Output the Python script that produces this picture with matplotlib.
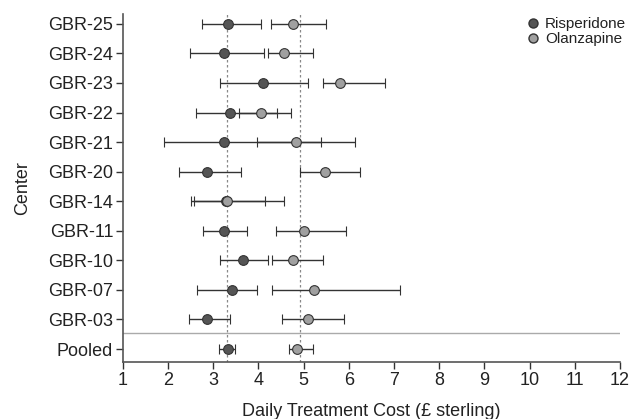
import matplotlib
matplotlib.use("Agg")
import matplotlib.pyplot as plt
from matplotlib.lines import Line2D
import numpy as np

plt.rcParams['font.family'] = ['Liberation Sans', 'DejaVu Sans']

centers = ["Pooled", "GBR-03", "GBR-07", "GBR-10", "GBR-11", "GBR-14",
           "GBR-20", "GBR-21", "GBR-22", "GBR-23", "GBR-24", "GBR-25"]

risp_mean = [3.32, 2.87, 3.42, 3.66, 3.24, 3.28, 2.86, 3.23, 3.37, 4.11, 3.23, 3.33]
risp_low  = [3.12, 2.46, 2.65, 3.16, 2.78, 2.57, 2.25, 1.91, 2.62, 3.14, 2.48, 2.76]
risp_high = [3.49, 3.37, 3.97, 4.22, 3.74, 4.14, 3.62, 5.38, 4.42, 5.10, 4.13, 4.05]

olan_mean = [4.85, 5.10, 5.23, 4.77, 5.01, 3.30, 5.47, 4.84, 4.05, 5.80, 4.56, 4.77]
olan_low  = [4.67, 4.52, 4.31, 4.31, 4.38, 2.50, 4.92, 3.97, 3.56, 5.42, 4.22, 4.27]
olan_high = [5.20, 5.90, 7.13, 5.44, 5.93, 4.56, 6.24, 6.13, 4.73, 6.80, 5.21, 5.49]

ref_lines = [3.31, 4.93]

ypos = np.arange(len(centers))

fig = plt.figure(figsize=(6.3, 4.19), dpi=100)
ax = fig.add_axes([0.195, 0.136, 0.789, 0.831])

for x in ref_lines:
    ax.axvline(x, color='#888888', linestyle=(0, (2, 2)), linewidth=0.9, zorder=1)
ax.axhline(0.54, color='#aaaaaa', linewidth=1.0, zorder=1)

rm = np.array(risp_mean)
om = np.array(olan_mean)
ax.errorbar(rm, ypos, xerr=[rm - np.array(risp_low), np.array(risp_high) - rm],
            fmt='o', color='#333333', ecolor='#333333', elinewidth=1.0, capsize=3.5,
            capthick=1.0, markersize=7, markerfacecolor='#555555',
            markeredgecolor='#333333', markeredgewidth=0.8, zorder=3)
ax.errorbar(om, ypos, xerr=[om - np.array(olan_low), np.array(olan_high) - om],
            fmt='o', color='#333333', ecolor='#333333', elinewidth=1.0, capsize=3.5,
            capthick=1.0, markersize=7, markerfacecolor='#a0a0a0',
            markeredgecolor='#333333', markeredgewidth=0.8, zorder=4)

ax.set_xlim(1, 12)
ax.set_ylim(-0.44, 11.34)
ax.set_xticks(range(1, 13))
ax.set_yticks(ypos)
ax.set_yticklabels(centers)
ax.tick_params(axis='both', colors='#333333', labelsize=13, length=5, width=1.0,
               labelcolor='#222222', pad=2)
for s in ['top', 'right']:
    ax.spines[s].set_visible(False)
for s in ['left', 'bottom']:
    ax.spines[s].set_color('#555555')
    ax.spines[s].set_linewidth(1.2)

ax.set_xlabel("Daily Treatment Cost (£ sterling)", fontsize=13, color='#222222', labelpad=10)
ax.set_ylabel("Center", fontsize=13, color='#222222', labelpad=12)

handles = [
    Line2D([], [], linestyle='none', marker='o', markersize=6.5,
           markerfacecolor='#555555', markeredgecolor='#333333', label='Risperidone'),
    Line2D([], [], linestyle='none', marker='o', markersize=6.5,
           markerfacecolor='#a0a0a0', markeredgecolor='#333333', label='Olanzapine'),
]
ax.legend(handles=handles, loc='upper right', bbox_to_anchor=(1.04, 1.03), frameon=False,
          fontsize=11, handletextpad=0.15, labelspacing=0.05, handlelength=1.2,
          labelcolor='#222222')

fig.savefig("out.png", dpi=100)
